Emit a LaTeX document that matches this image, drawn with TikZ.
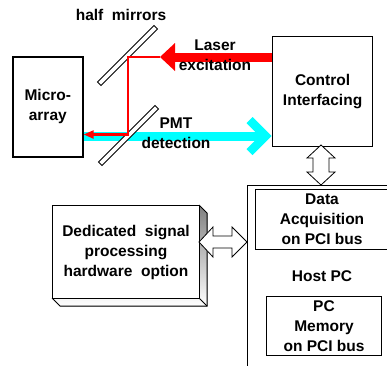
\documentclass[tikz,border=0pt]{standalone}
\usepackage{fontspec}
\setmainfont{Liberation Sans}
\usetikzlibrary{arrows.meta}
\definecolor{laserred}{HTML}{FF0000}
\definecolor{pmtcyan}{HTML}{00FFFF}
\definecolor{shade}{HTML}{C0C0C0}
\begin{document}
\begin{tikzpicture}[x=1pt,y=-1pt,
  lbl/.style={font=\fontsize{15.5}{20}\selectfont\bfseries, align=center, inner sep=0pt},
  boxa/.style={draw=black, line width=1.2pt, fill=white, inner sep=0pt, anchor=north west},
  mirror/.style={draw=black, line width=0.9pt, fill=white, minimum width=80pt, minimum height=5pt, inner sep=0pt, rotate=45},
  outl/.style={draw=black, line width=0.8pt, fill=white, line join=miter}
]
\useasboundingbox (0,0) rectangle (387,365);
\clip (0,0) rectangle (387,365);

% main boxes
\node[boxa, line width=1.6pt, minimum width=70pt, minimum height=100pt, lbl] (micro) at (12,56) {Micro-\\array};
\node[boxa, minimum width=100pt, minimum height=110pt, lbl] (ctrl) at (272,36) {Control\\Interfacing};
\node[boxa, line width=0.9pt, minimum width=170pt, minimum height=200pt] (host) at (247,185) {};
\node[boxa, minimum width=150pt, minimum height=60pt] (daq) at (255,189) {};
\node[lbl] (daqlbl) at (322,219) {Data\\Acquisition\\on PCI bus};
\node[lbl] (hostlbl) at (322,276) {Host PC};
\node[boxa, line width=1pt, minimum width=115pt, minimum height=59pt, lbl] (mem) at (266,296) {PC\\Memory\\on PCI bus};

% 3D box
\fill[shade] (199,205) -- (207,213) -- (207,306) -- (60,306) -- (52,298) -- (199,298) -- cycle;
\draw[line width=1pt, line join=miter] (199,205) -- (207,213) -- (207,306) -- (60,306) -- (52,298);
\draw[line width=1pt] (199,298) -- (207,306);
\node[boxa, line width=1pt, minimum width=147pt, minimum height=93pt, lbl] (dsp) at (52,205) {Dedicated\ \ signal\\processing\\hardware\ \ option};

% cyan PMT detection arrow
\coordinate (cy0) at (micro.east |- 0,136);
\coordinate (cytip) at (ctrl.west |- 0,136);
\draw[pmtcyan, line width=9pt] (cy0) -- ([xshift=-12pt]cytip);
\draw[pmtcyan, line width=8.5pt, line join=miter] ([xshift=-22.5pt,yshift=16pt]cytip) -- ([xshift=-6.5pt]cytip) -- ([xshift=-22.5pt,yshift=-16pt]cytip);

% half mirrors
\node[mirror] (m1) at (127.5,55.5) {};
\node[mirror] (m2) at (128.5,135.5) {};

% laser excitation
\coordinate (ls0) at (ctrl.west |- 0,57);
\coordinate (lstip) at (160,57);
\draw[laserred, line width=9pt] (ls0) -- (174,57);
\fill[laserred] (lstip) -- (175,43) -- (175,71) -- cycle;
\coordinate (c1) at (128,57);
\coordinate (c2) at (128,134.5);
\coordinate (c3) at (micro.east |- c2);
\draw[laserred, line width=2.2pt, -{Triangle[length=10pt,width=8pt]}] (lstip) -- (c1) -- (c2) -- (c3);

% outline double arrows
\draw[outl] (321,145) -- (335,158) -- (329,158) -- (329,172) -- (335,172) -- (321,185) -- (307,172) -- (313,172) -- (313,158) -- (307,158) -- cycle;
\draw[outl] (199,242) -- (213,227) -- (213,236) -- (232,236) -- (232,227) -- (247,242) -- (232,257) -- (232,248) -- (213,248) -- (213,257) -- cycle;

% labels
\node[lbl] (hm) at (121,15) {half\ \ mirrors};
\node[lbl] (laser) at (215,55) {Laser\\excitation};
\node[lbl] (pmt) at (176,133) {PMT\\detection};
\end{tikzpicture}
\end{document}
